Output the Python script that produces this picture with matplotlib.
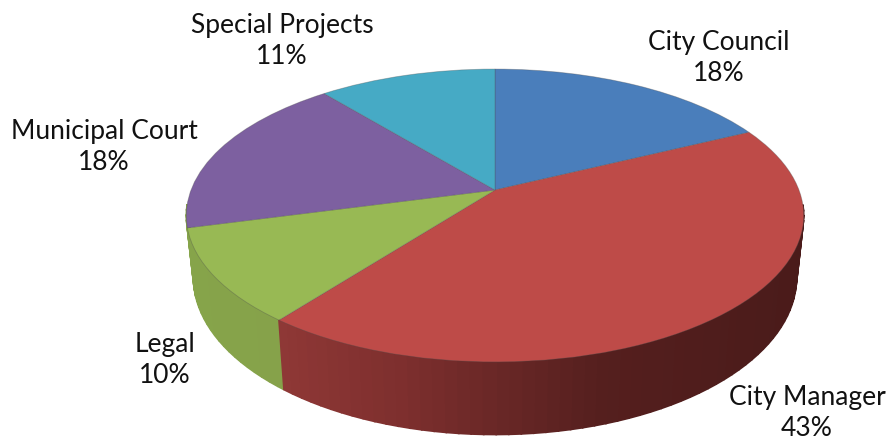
import numpy as np
import matplotlib
matplotlib.use("Agg")
import matplotlib.pyplot as plt
from matplotlib.transforms import Transform
from matplotlib.path import Path
from matplotlib.colors import to_rgb

categories = ["City Council", "City Manager", "Legal", "Municipal Court", "Special Projects"]
values = [17.8, 42.7, 10.4, 18.1, 11.0]
pct_labels = ["18%", "43%", "10%", "18%", "11%"]
top_colors = ["#4A7EBB", "#BE4B48", "#98B954", "#7D60A0", "#46AAC5"]
label_pos = [(719, 58), (807, 413), (165, 360), (104, 147), (282, 41)]

CX, CY = 495.0, 190.0
A, B, K = 304.0, 142.0, 0.174
A_BOTTOM, H = 297.0, 60.0


class Perspective(Transform):
    input_dims = output_dims = 2
    is_affine = False

    def transform_non_affine(self, v):
        v = np.asarray(v, float)
        d = 1 + K * v[:, 1]
        return np.column_stack([CX + A * v[:, 0] / d, CY - B * v[:, 1] / d])

    def transform_path_non_affine(self, path):
        return Path(self.transform_non_affine(path.vertices), path.codes)


def bottom_xy(t):
    x, y = np.cos(t), np.sin(t)
    d = 1 + K * y
    return CX + A_BOTTOM * x / d, CY - B * y / d + H / d


def top_xy(t):
    x, y = np.cos(t), np.sin(t)
    d = 1 + K * y
    return CX + A * x / d, CY - B * y / d


# wall shading per slice: (pixel x, colour)
red_stops = [(277, "#8F3836"), (400, "#7E2F2E"), (495, "#6A2827"), (600, "#551F1E"), (805, "#4A1B1A")]
wall_stops = [
    [(186, "#3A5A85"), (805, "#3A5A85")],
    red_stops,
    [(186, "#86A44A"), (281, "#86A24A")],
    [(186, "#86A44A"), (805, "#86A44A")],
    [(186, "#3A90A8"), (805, "#3A90A8")],
]


def shade(stops, x):
    xs = [s[0] for s in stops]
    rgb = np.array([to_rgb(s[1]) for s in stops])
    return tuple(np.interp(x, xs, rgb[:, i]) for i in range(3))


plt.rcParams["font.family"] = ["Lato", "DejaVu Sans"]
fig = plt.figure(figsize=(8.91, 4.42), dpi=100)
ax = fig.add_axes([0, 0, 1, 1])

wedges, _ = ax.pie(values, colors=top_colors, startangle=90, counterclock=False,
                   wedgeprops=dict(linewidth=0.6, edgecolor=(0.3, 0.3, 0.3, 0.35)))
ax.set_aspect("auto")
ax.set_xlim(0, 891)
ax.set_ylim(442, 0)
ax.set_axis_off()

persp = Perspective()
for w in wedges:
    w.set_transform(persp + ax.transData)
    w.set_clip_on(False)
    w.set_zorder(5)

# side wall (front part only), built from the slice angles
quads = []
for w, stops in zip(wedges, wall_stops):
    th = np.arange(w.theta1, w.theta2 + 2.0, 2.0)
    th = np.append(th[th < w.theta2], w.theta2)
    for t0, t1 in zip(th[:-1], th[1:]):
        if np.sin(np.radians(t0 + t1) / 2) < -0.1:
            quads.append((t0, t1, stops))
quads.sort(key=lambda q: -np.sin(np.radians(q[0] + q[1]) / 2))
for t0, t1, stops in quads:
    a, b = np.radians(t0), np.radians(t1)
    xt0, yt0 = top_xy(a)
    xt1, yt1 = top_xy(b)
    xb0, yb0 = bottom_xy(a)
    xb1, yb1 = bottom_xy(b)
    c = shade(stops, (xt0 + xt1) / 2)
    ax.fill([xt0, xt1, xb1, xb0], [yt0, yt1, yb1, yb0], color=c, lw=1.2, zorder=2, clip_on=False)

for name, pct, (x, y) in zip(categories, pct_labels, label_pos):
    ax.text(x, y, f"{name}\n{pct}", ha="center", va="center", fontsize=19,
            color="#111111", linespacing=1.32, zorder=10)

fig.savefig("out.png", dpi=100)
